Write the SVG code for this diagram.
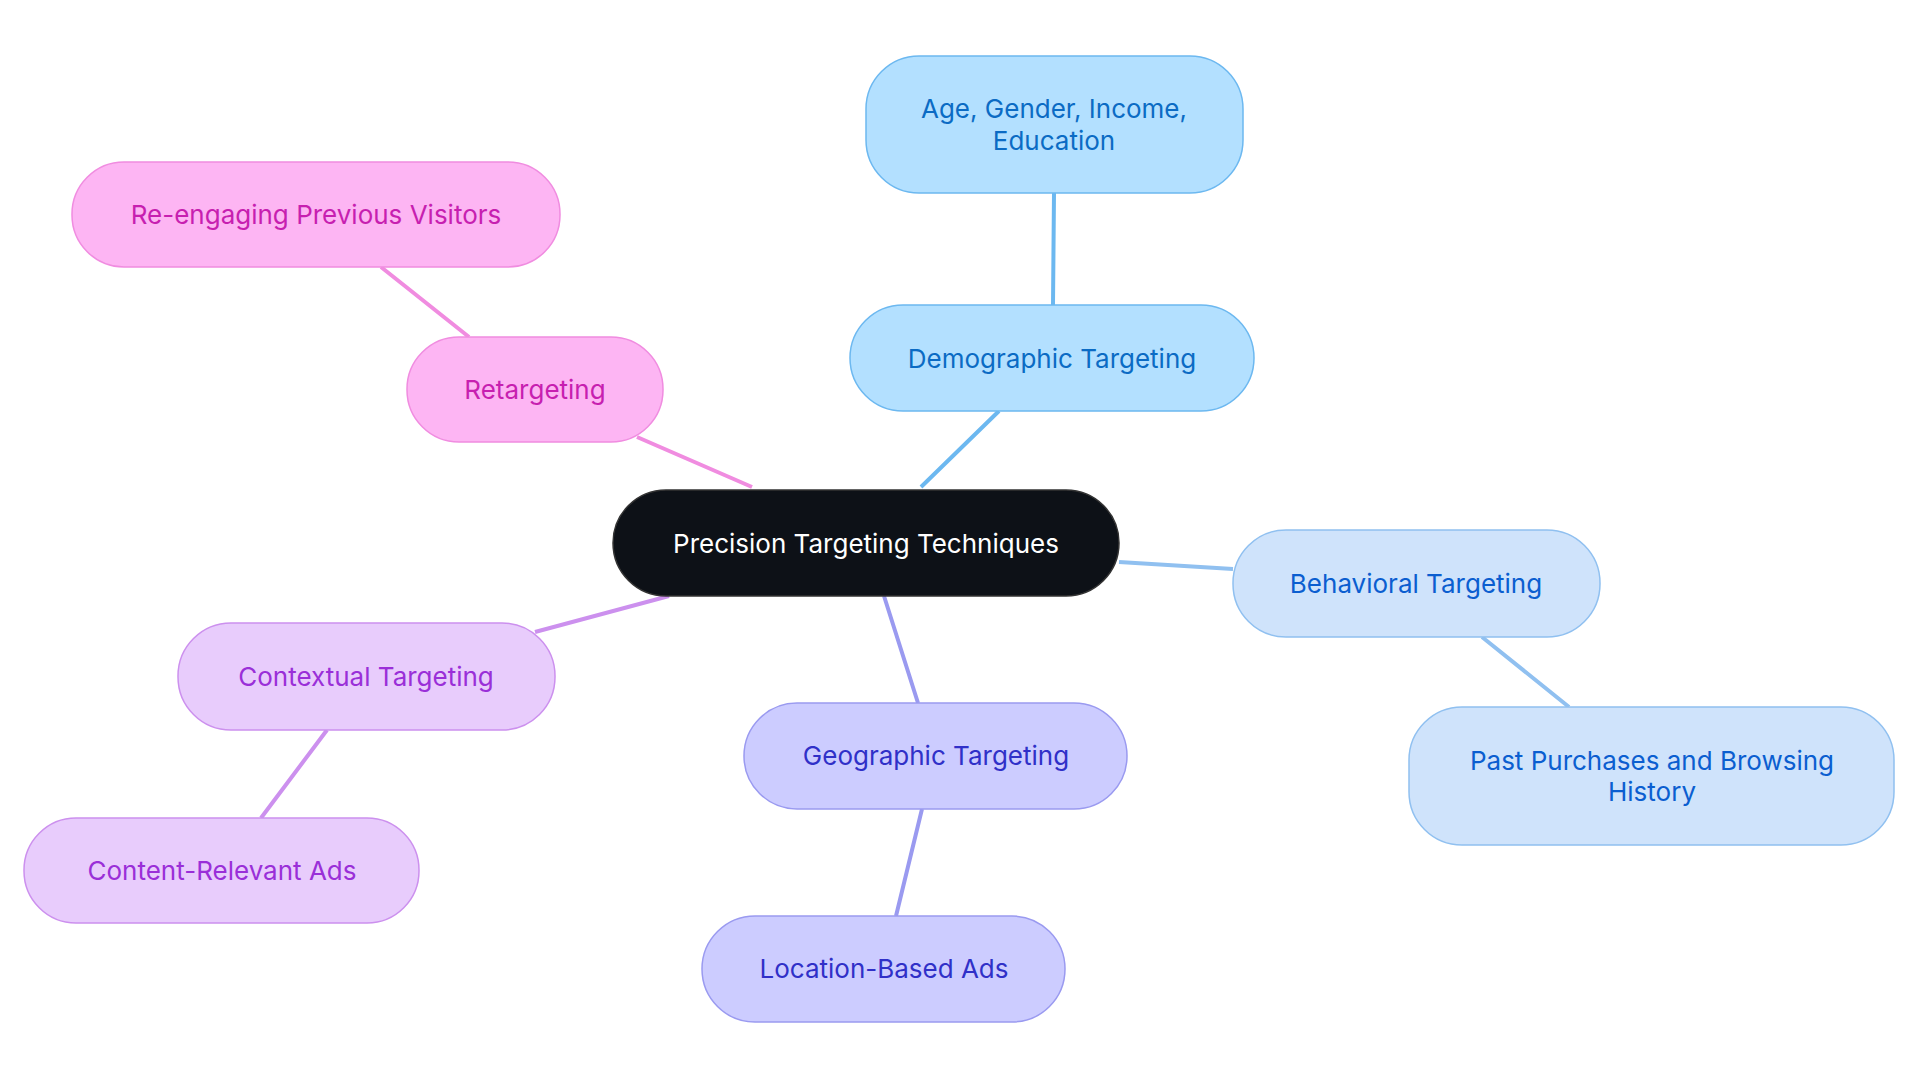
<svg xmlns="http://www.w3.org/2000/svg" width="1920" height="1083" viewBox="0 0 1920 1083">
<style>
text{font-family:Inter,"Open Sans","Liberation Sans",sans-serif;font-size:26px;text-anchor:middle;dominant-baseline:central}
.e{fill:none;stroke-width:4}
.b rect{fill:#b3e0ff;stroke:#6cb8f0;stroke-width:1.5}.b text{fill:#0b6bc4}
.p rect{fill:#fdb5f3;stroke:#f08ce0;stroke-width:1.5}.p text{fill:#c71fb0}
.l rect{fill:#cfe3fb;stroke:#90c0f0;stroke-width:1.5}.l text{fill:#0b5ed0}
.v rect{fill:#e8ccfc;stroke:#cc90ee;stroke-width:1.5}.v text{fill:#9a2fd8}
.g rect{fill:#ccccff;stroke:#9a9af0;stroke-width:1.5}.g text{fill:#3030c8}
</style>
<rect width="1920" height="1083" fill="#fff"/>
<g id="connectors">
<path class="e" stroke="#6cb8f0" d="M921 487L999 411M1053 305L1054 193"/>
<path class="e" stroke="#f08ce0" d="M752 487L637 437M469 337L381 267"/>
<path class="e" stroke="#90c0f0" d="M1119 562L1233 569M1482 637L1569 707"/>
<path class="e" stroke="#cc90ee" d="M669 596L535 632M327 730L261 818"/>
<path class="e" stroke="#9a9af0" d="M884 596L918 703M922 809L896 916"/>
</g>
<g id="center"><rect x="613" y="490" width="506" height="106" rx="53" fill="#0d1117" stroke="#333" stroke-width="1.5"/><text x="866" y="543" fill="#fff">Precision Targeting Techniques</text></g>
<g id="demo" class="b"><rect x="850" y="305" width="404" height="106" rx="53"/><text x="1052" y="358">Demographic Targeting</text></g>
<g id="age" class="b"><rect x="866" y="56" width="377" height="137" rx="53"/><text x="1054" y="108">Age, Gender, Income,</text><text x="1054" y="140">Education</text></g>
<g id="ret" class="p"><rect x="407" y="337" width="256" height="105" rx="52"/><text x="535" y="389">Retargeting</text></g>
<g id="reeng" class="p"><rect x="72" y="162" width="488" height="105" rx="52"/><text x="316" y="214">Re-engaging Previous Visitors</text></g>
<g id="beh" class="l"><rect x="1233" y="530" width="367" height="107" rx="53"/><text x="1416" y="583">Behavioral Targeting</text></g>
<g id="past" class="l"><rect x="1409" y="707" width="485" height="138" rx="53"/><text x="1652" y="760">Past Purchases and Browsing</text><text x="1652" y="791">History</text></g>
<g id="ctx" class="v"><rect x="178" y="623" width="377" height="107" rx="53"/><text x="366" y="676">Contextual Targeting</text></g>
<g id="content" class="v"><rect x="24" y="818" width="395" height="105" rx="52"/><text x="222" y="870">Content-Relevant Ads</text></g>
<g id="geo" class="g"><rect x="744" y="703" width="383" height="106" rx="53"/><text x="936" y="755">Geographic Targeting</text></g>
<g id="loc" class="g"><rect x="702" y="916" width="363" height="106" rx="53"/><text x="884" y="968">Location-Based Ads</text></g>
</svg>
